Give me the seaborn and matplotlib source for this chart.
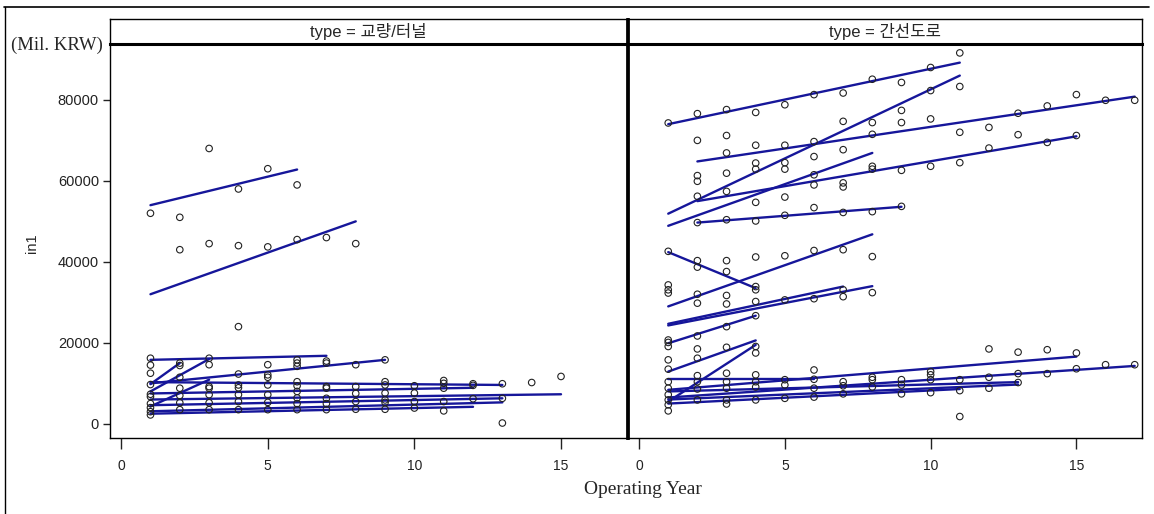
import numpy as np
import pandas as pd
import matplotlib
matplotlib.use("Agg")
import matplotlib.pyplot as plt
import seaborn as sns
from matplotlib.lines import Line2D

sns.set_theme(style="white")
plt.rcParams['font.family'] = ['Liberation Sans', 'Noto Sans CJK KR', 'DejaVu Sans']

# ---------------- data ----------------
panel_titles = ["type = 교량/터널", "type = 간선도로"]
x_ticks = [0, 5, 10, 15]
y_ticks = [0, 20000, 40000, 60000, 80000]
y_unit = "(Mil. KRW)"
x_label = "Operating Year"
y_label = "in1"

# left panel (교량/터널) observed points, listed per operating year
left_years = [1, 2, 3, 4, 5, 6, 7, 8, 9, 10, 11, 12, 13, 14, 15]
left_values = [
    [52000, 16200, 14500, 12500, 9700, 7300, 6700, 5000, 4000, 3000, 2200],
    [51000, 43000, 15000, 14400, 11500, 8800, 7000, 5200, 3500],
    [68000, 44500, 16200, 14600, 9200, 8800, 7200, 5200, 3500],
    [58000, 44000, 24000, 12300, 9600, 8900, 7200, 5500, 3500],
    [63000, 43700, 14600, 12100, 11500, 9600, 7200, 5300, 3500],
    [59000, 45500, 15800, 15000, 14200, 10400, 9400, 8000, 6400, 5000, 3500],
    [46000, 15500, 15000, 9200, 8800, 6300, 5000, 3500],
    [44500, 14600, 9200, 7500, 5500, 3600],
    [15800, 10400, 9600, 7600, 5900, 5300, 3600],
    [9400, 7600, 5500, 3900],
    [10700, 10000, 8800, 5500, 3200],
    [9900, 9500, 6200],
    [9900, 6300, 200],
    [10200],
    [11700],
]

# right panel (간선도로) observed points, listed per operating year
right_years = [1, 2, 3, 4, 5, 6, 7, 8, 9, 10, 11, 12, 13, 14, 15, 16, 17]
right_values = [
    [74300, 42600, 34300, 33100, 32300, 20700, 20100, 19100, 15800, 13500,
     10400, 8800, 7200, 5900, 4700, 3200],
    [76600, 70000, 61300, 59900, 56200, 49700, 40300, 38700, 32000, 29800,
     21700, 18500, 16200, 11900, 10400, 8600, 5900],
    [77600, 71200, 66900, 61900, 57400, 50400, 40300, 37600, 31700, 29600,
     24000, 18900, 12500, 10400, 8800, 5900, 4900],
    [76900, 68800, 64400, 62900, 54700, 50100, 41200, 33900, 33100, 30200,
     26700, 19100, 17500, 12100, 10400, 9100, 5900],
    [78800, 68800, 64500, 62900, 56000, 51500, 41500, 30600, 10900, 9600, 6300],
    [81300, 69700, 66000, 61500, 59000, 53400, 42800, 30900, 13300, 11000, 8800, 6600],
    [81700, 74700, 67700, 59500, 58500, 52200, 43000, 33100, 31400, 10400, 9400, 7400],
    [85100, 74400, 71500, 63600, 62900, 52400, 41300, 32400, 11500, 10900, 9100],
    [84300, 77400, 74400, 62600, 53700, 10900, 9600, 7400],
    [88000, 82300, 75300, 63600, 12900, 12100, 10900, 7700],
    [91600, 83300, 72000, 64500, 10900, 8200, 1800],
    [73200, 68100, 18500, 11500, 8800],
    [76700, 71400, 17700, 12400, 10200],
    [78500, 69500, 18300, 12400],
    [81300, 71200, 17500, 13600],
    [79900, 14600],
    [79900, 14600],
]

# fitted lines per project: start year, end year, start value, end value
left_line_x0 = [1, 1, 1, 1, 1, 1, 1, 1, 1, 1, 1, 1, 1]
left_line_x1 = [6, 8, 7, 9, 2, 3, 3, 13, 12, 15, 13, 13, 12]
left_line_y0 = [54000, 32000, 15800, 10000, 9800, 8000, 4300, 10300, 7500, 6000, 4600, 3100, 2500]
left_line_y1 = [62800, 50000, 16800, 15800, 15000, 16000, 10900, 9600, 8900, 7300, 6300, 5300, 4200]

right_line_x0 = [1, 1, 2, 2, 1, 2, 1, 1, 1, 1, 1, 1, 1, 1, 1, 1, 1, 1, 1]
right_line_x1 = [11, 11, 17, 15, 8, 9, 4, 8, 7, 8, 4, 4, 4, 6, 15, 17, 13, 13, 11]
right_line_y0 = [74000, 51900, 64800, 55000, 48900, 49700, 42400, 29000, 24700, 24300,
                 19900, 12900, 5500, 11100, 8400, 6500, 8000, 6000, 5000]
right_line_y1 = [89200, 86000, 80800, 71000, 66900, 53600, 33500, 46800, 33900, 34000,
                 26700, 20600, 19500, 11100, 16600, 14300, 10300, 9700, 8600]


def points_frame(years, values):
    rows = [(yr, v) for yr, vals in zip(years, values) for v in vals]
    return pd.DataFrame(rows, columns=["year", "value"])


def lines_frame(x0, x1, y0, y1):
    rows = []
    for i, (a, b, c, d) in enumerate(zip(x0, x1, y0, y1)):
        rows.append((i, a, c))
        rows.append((i, b, d))
    return pd.DataFrame(rows, columns=["id", "year", "value"])


panels = [
    (points_frame(left_years, left_values),
     lines_frame(left_line_x0, left_line_x1, left_line_y0, left_line_y1)),
    (points_frame(right_years, right_values),
     lines_frame(right_line_x0, right_line_x1, right_line_y0, right_line_y1)),
]

# ---------------- figure ----------------
W, H = 1154, 514
fig = plt.figure(figsize=(W / 100, H / 100), dpi=100)
fig.patch.set_facecolor("white")

def fx(px):
    return px / W

def fy(py):
    return 1 - py / H

plot_top, plot_bot = 44, 438
strip_top = 19
lefts = [110, 628]
rights = [627, 1142]
line_color = "#16169a"

for k, (pts, lns) in enumerate(panels):
    l, r = lefts[k], rights[k]
    ax = fig.add_axes([fx(l), fy(plot_bot), fx(r - l), fy(plot_top) - fy(plot_bot)])
    sns.lineplot(data=lns, x="year", y="value", units="id", estimator=None,
                 color=line_color, linewidth=1.7, ax=ax, legend=False)
    sns.scatterplot(data=pts, x="year", y="value", marker="o", s=22,
                    facecolor="none", edgecolor="#222222", linewidth=0.8,
                    ax=ax, legend=False, zorder=3)
    ax.set_xlim(-0.38, 17.25)
    ax.set_ylim(-3500, 93800)
    ax.set_xticks(x_ticks)
    ax.set_xticklabels([str(t) for t in x_ticks], fontsize=10)
    ax.tick_params(axis="x", direction="out", length=8, width=1, pad=7,
                   colors="#222222", bottom=True)
    ax.set_xlabel("")
    ax.set_ylabel("")
    for s in ax.spines.values():
        s.set_color("black")
        s.set_linewidth(1.0)
    if k == 0:
        ax.set_yticks(y_ticks)
        ax.set_yticklabels([str(t) for t in y_ticks], fontsize=10.5)
        ax.tick_params(axis="y", direction="out", length=5, width=1, pad=3,
                       colors="#222222", left=True)
        ax.spines["right"].set_linewidth(2.0)
    else:
        ax.set_yticks([])
        ax.spines["left"].set_linewidth(2.0)
    ax.grid(False)

    # strip header
    sax = fig.add_axes([fx(l), fy(plot_top), fx(r - l), fy(strip_top) - fy(plot_top)])
    sax.set_xticks([])
    sax.set_yticks([])
    sax.set_facecolor("white")
    for s in sax.spines.values():
        s.set_color("black")
        s.set_linewidth(1.0)
    sax.spines["bottom"].set_linewidth(2.2)
    if k == 0:
        sax.spines["right"].set_linewidth(2.0)
    else:
        sax.spines["left"].set_linewidth(2.0)
    sax.text(0.5, 0.5, panel_titles[k], ha="center", va="center", fontsize=12,
             transform=sax.transAxes,
             family=['Liberation Sans', 'Noto Sans CJK KR'])

# outer frame
fig.add_artist(Line2D([fx(4), fx(1149)], [fy(7), fy(7)], color="black", lw=1.2))
fig.add_artist(Line2D([fx(5), fx(5)], [fy(7), fy(514)], color="black", lw=1.0))

# texts
fig.text(fx(57), fy(45), y_unit, ha="center", va="center", fontsize=13.5,
         family="Liberation Serif")
fig.text(fx(643), fy(490), x_label, ha="center", va="center", fontsize=14,
         family="Liberation Serif")
fig.text(fx(32), fy(243), y_label, ha="center", va="center", fontsize=10.5,
         rotation=90)

fig.savefig("out.png", dpi=100, facecolor="white")
